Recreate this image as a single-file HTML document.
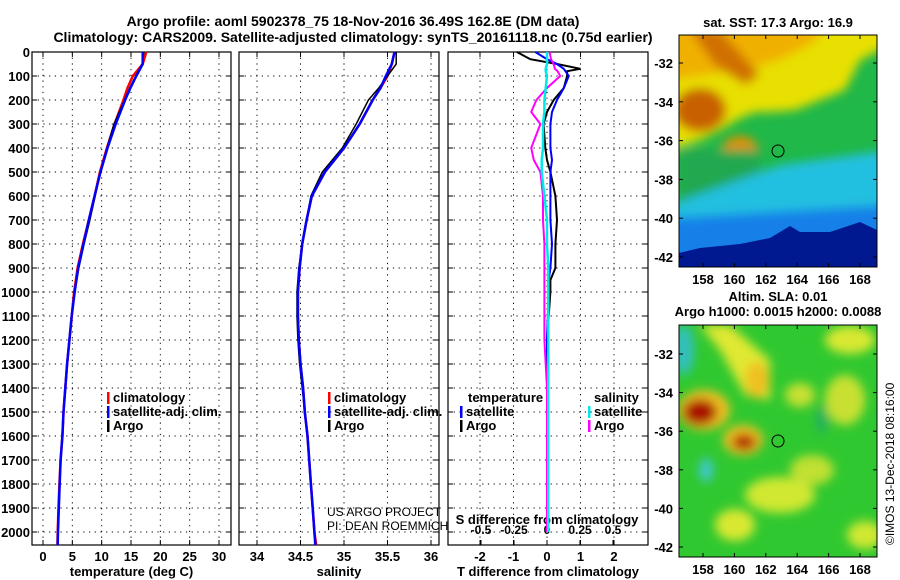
<!DOCTYPE html>
<html><head><meta charset="utf-8"><style>
body{margin:0;background:#fff;}
svg{display:block;font-family:"Liberation Sans",sans-serif;font-weight:bold;}
</style></head><body>
<svg id="s" width="900" height="580" viewBox="0 0 900 580">
<defs>
<clipPath id="c1"><rect x="679" y="35" width="198" height="232"/></clipPath>
<clipPath id="c2"><rect x="679" y="325" width="198" height="232"/></clipPath>
<filter id="bl" x="-20%" y="-20%" width="140%" height="140%"><feGaussianBlur stdDeviation="5"/></filter>
<filter id="bl2" x="-20%" y="-20%" width="140%" height="140%"><feGaussianBlur stdDeviation="5"/></filter>
</defs>
<text x="353" y="26" font-size="14" text-anchor="middle">Argo profile: aoml 5902378_75 18-Nov-2016 36.49S 162.8E (DM data)</text>
<text x="353" y="42" font-size="14" text-anchor="middle">Climatology: CARS2009. Satellite-adjusted climatology: synTS_20161118.nc (0.75d earlier)</text>

<g clip-path="url(#c1)">
<rect x="679" y="35" width="198" height="232" fill="#20b848"/>
<g filter="url(#bl)">
<polygon points="670,25 890,25 890,45 860,60 845,90 820,100 795,110 770,112 755,112 740,118 720,130 700,140 670,150" fill="#e8e000"/>
<polygon points="670,25 830,25 810,45 780,60 745,70 705,75 670,80" fill="#f0b000"/>
<polygon points="690,30 720,30 760,75 745,85 715,65" fill="#d07000"/>
<ellipse cx="700" cy="110" rx="26" ry="22" fill="#c86000"/>
<ellipse cx="740" cy="150" rx="18" ry="14" fill="#e09000"/>
<polygon points="680,150 760,150 760,195 680,200" fill="#20a850"/>
<polygon points="780,165 890,150 890,225 670,225 670,205" fill="#20c0e0"/>
<polygon points="670,218 890,205 890,280 670,280" fill="#1880e8"/>
</g>
<polygon points="679,253 700,248 740,244 770,238 790,226 800,232 830,232 860,222 877,230 877,267 679,267" fill="#001890"/>
<circle cx="778" cy="151" r="6" fill="none" stroke="#000" stroke-width="1"/>
</g>
<rect x="679" y="35" width="198" height="232" fill="none" stroke="#000"/>
<text x="778" y="27" font-size="13" text-anchor="middle">sat. SST: 17.3 Argo: 16.9</text>

<g clip-path="url(#c2)">
<rect x="679" y="325" width="198" height="232" fill="#30c830"/>
<g filter="url(#bl2)">
<polygon points="700,325 730,325 770,360 770,400 745,395 720,350" fill="#e0e830"/>
<ellipse cx="757" cy="380" rx="12" ry="18" fill="#f0c020"/>
<ellipse cx="850" cy="340" rx="25" ry="14" fill="#d8e830"/>
<ellipse cx="845" cy="400" rx="20" ry="25" fill="#c8e030"/>
<ellipse cx="800" cy="395" rx="15" ry="12" fill="#c8e030"/>
<ellipse cx="780" cy="495" rx="35" ry="18" fill="#d0e830"/>
<ellipse cx="735" cy="525" rx="20" ry="16" fill="#d8e830"/>
<ellipse cx="865" cy="535" rx="18" ry="14" fill="#d0e830"/>
<ellipse cx="812" cy="470" rx="22" ry="15" fill="#c0e030"/>
<ellipse cx="822" cy="420" rx="6" ry="14" fill="#20b060"/>
<ellipse cx="684" cy="350" rx="10" ry="25" fill="#30c0c0"/>
<ellipse cx="706" cy="470" rx="7" ry="12" fill="#40c8d0"/>
<ellipse cx="704" cy="410" rx="26" ry="20" fill="#f0c020"/>
<ellipse cx="700" cy="412" rx="17" ry="13" fill="#a81000"/>
<ellipse cx="743" cy="440" rx="20" ry="15" fill="#f0c020"/>
<ellipse cx="744" cy="442" rx="12" ry="8" fill="#b02000"/>
</g>
<circle cx="778" cy="441" r="6" fill="none" stroke="#000" stroke-width="1"/>
</g>
<rect x="679" y="325" width="198" height="232" fill="none" stroke="#000"/>
<text x="778" y="301" font-size="13" text-anchor="middle">Altim. SLA: 0.01</text>
<text x="778" y="316" font-size="13" text-anchor="middle">Argo h1000: 0.0015 h2000: 0.0088</text>
<text transform="translate(894,545) rotate(-90)" font-size="12" font-weight="normal">©IMOS 13-Dec-2018 08:16:00</text>
<text x="327" y="516" font-size="12" font-weight="normal">US ARGO PROJECT</text>
<text x="327" y="530" font-size="12" font-weight="normal">PI: DEAN ROEMMICH</text>
</svg>
<script>
const depthTicks=[0,100,200,300,400,500,600,700,800,900,1000,1100,1200,1300,1400,1500,1600,1700,1800,1900,2000];
const tempTicks=[0,5,10,15,20,25,30];
const salTicks=[34,34.5,35,35.5,36];
const tdTicks=[-2,-1,0,1,2];
const sdTicks=[-0.5,-0.25,0,0.25,0.5];
const latTicks=[-32,-34,-36,-38,-40,-42];
const lonTicks=[158,160,162,164,166,168];
const zDepth=[0,50,100,150,200,300,400,500,600,700,800,900,1000,1100,1200,1300,1400,1500,1600,1700,1800,1900,2000,2054];
const tempClim=[17.6,17.0,15.3,14.4,13.7,12.2,10.9,9.7,8.8,7.8,6.8,5.9,5.3,4.9,4.5,4.1,3.8,3.5,3.3,3.0,2.8,2.65,2.5,2.45];
const tempSat=[17.0,17.0,15.9,14.9,14.0,12.4,11.0,9.8,8.8,7.8,6.9,6.0,5.4,4.9,4.5,4.1,3.8,3.5,3.3,3.0,2.85,2.7,2.55,2.5];
const tempArgo=[17.2,16.9,15.8,14.8,13.9,12.1,10.9,9.8,8.9,8.0,7.0,6.1,5.4,4.9,4.5,4.1,3.8,3.5,3.3,3.0,2.85,2.7,2.55,2.5];
const salClim=[35.58,35.55,35.5,35.42,35.33,35.18,35.0,34.78,34.63,34.57,34.52,34.49,34.47,34.47,34.48,34.5,34.53,34.55,34.58,34.6,34.62,34.64,34.66,34.68];
const salSat=[35.58,35.55,35.48,35.42,35.33,35.18,35.0,34.78,34.63,34.57,34.52,34.49,34.47,34.47,34.48,34.5,34.53,34.55,34.58,34.6,34.62,34.64,34.66,34.67];
const salArgo=[35.6,35.6,35.5,35.4,35.28,35.14,34.98,34.75,34.62,34.57,34.52,34.48,34.46,34.46,34.47,34.49,34.52,34.55,34.58,34.6,34.62,34.64,34.66,34.67];
const dDepth=[0,30,50,70,80,100,150,200,250,300,400,450,500,600,700,800,900,950,1000,1200,1400,1600,1800,2000];
const tdArgo=[-0.9,-0.5,0.3,1.0,0.6,0.6,0.5,0.2,0.0,-0.1,-0.05,0.0,0.1,0.25,0.3,0.25,0.25,0.1,0.1,0.0,0.0,0.0,0.0,0.0];
const tdSat=[-0.35,0.0,0.3,0.5,0.55,0.65,0.5,0.3,0.15,0.1,0.1,0.15,0.1,0.1,0.1,0.15,0.1,0.05,0.05,0.0,0.0,0.0,0.0,0.0];
const sdArgo=[0.02,0.03,0.05,0.06,0.08,0.1,0.0,-0.08,-0.12,-0.05,-0.12,-0.1,-0.05,-0.03,-0.03,-0.02,-0.02,-0.02,-0.02,-0.02,0.0,0.0,0.0,0.0];
const sdSat=[0,0,0,-0.01,-0.01,0,-0.01,-0.02,-0.02,-0.03,-0.03,-0.04,-0.04,-0.02,0,0,0.01,0.01,0.01,0.01,0.01,0.01,0.01,0.01];

const S=document.getElementById('s');
const NS='http://www.w3.org/2000/svg';
function mk(tag,attrs,parent){const e=document.createElementNS(NS,tag);for(const k in attrs)e.setAttribute(k,attrs[k]);(parent||S).appendChild(e);return e;}
const Y0=52,YB=545;
const yD=d=>Y0+d*0.24;
const panels=[
 {x0:32,x1:231,sx:v=>43+v*176/30,ticks:tempTicks,lbl:'temperature (deg C)',name:'temperature-panel'},
 {x0:239,x1:439,sx:v=>257+(v-34)*87,ticks:salTicks,lbl:'salinity',name:'salinity-panel'},
 {x0:448,x1:648,sx:v=>547+v*33.5,ticks:tdTicks,lbl:'T difference from climatology',name:'difference-panel'}];
const sdX=v=>547+v*132;
panels.forEach((p,i)=>{
 const g=mk('g',{});
 
 
 depthTicks.forEach(d=>{
  const l=mk('line',{x1:p.x0,x2:p.x1,y1:yD(d),y2:yD(d),stroke:'#000','stroke-dasharray':'1.2,4.5','stroke-width':1},g);
  
  
  mk('line',{x1:p.x0,x2:p.x0+5,y1:yD(d),y2:yD(d),stroke:'#000'},g);
  mk('line',{x1:p.x1-5,x2:p.x1,y1:yD(d),y2:yD(d),stroke:'#000'},g);
 });
 p.ticks.forEach(t=>{
  const x=p.sx(t);
  const l=mk('line',{x1:x,x2:x,y1:Y0,y2:YB,stroke:'#000','stroke-dasharray':'1.2,4.5'},g);
  
  
  mk('line',{x1:x,x2:x,y1:YB-5,y2:YB,stroke:'#000'},g);
  mk('line',{x1:x,x2:x,y1:Y0,y2:Y0+5,stroke:'#000'},g);
  const tx=mk('text',{x:x,y:561,'font-size':13,'text-anchor':'middle'},g);
  tx.textContent=String(t);
  
  
 });
 const r=mk('rect',{x:p.x0,y:Y0,width:p.x1-p.x0,height:YB-Y0,fill:'none',stroke:'#000','stroke-width':1.2},g);
 
 
 const xl=mk('text',{x:(p.x0+p.x1)/2,y:576,'font-size':13,'text-anchor':'middle'},g);
 xl.textContent=p.lbl;
 
 
});
depthTicks.forEach(d=>{
 const t=mk('text',{x:30,y:yD(d)+5,'font-size':13,'text-anchor':'end'});
 t.textContent=String(d);
 
 
});
sdTicks.forEach(t=>{
 const x=sdX(t);
 mk('line',{x1:x,x2:x,y1:YB-5,y2:YB,stroke:'#000'});
 const tx=mk('text',{x:x,y:534,'font-size':12,'text-anchor':'middle'});
 tx.textContent=String(t);
 
 
});
const sdt=mk('text',{x:547,y:524,'font-size':13,'text-anchor':'middle'});
sdt.textContent='S difference from climatology';



function line(vals,depths,sx,color,name,w){
 const pts=vals.map((v,i)=>sx(v).toFixed(1)+','+yD(depths[i]).toFixed(1)).join(' ');
 const pl=mk('polyline',{points:pts,fill:'none',stroke:color,'stroke-width':w||2});
 
 
}
line(tempClim,zDepth,panels[0].sx,'#ff0000','temp-climatology-line',2.5);
line(tempArgo,zDepth,panels[0].sx,'#000000','temp-argo-line',1.5);
line(tempSat,zDepth,panels[0].sx,'#0000ff','temp-satellite-line',2.5);
line(salClim,zDepth,panels[1].sx,'#ff0000','sal-climatology-line',2.5);
line(salArgo,zDepth,panels[1].sx,'#000000','sal-argo-line',1.5);
line(salSat,zDepth,panels[1].sx,'#0000ff','sal-satellite-line',2.5);
line(tdArgo,dDepth,panels[2].sx,'#000000','tdiff-argo-line',2);
line(tdSat,dDepth,panels[2].sx,'#0000ff','tdiff-satellite-line',2);
line(sdArgo,dDepth,sdX,'#ff00ff','sdiff-argo-line',2);
line(sdSat,dDepth,sdX,'#00e8e8','sdiff-satellite-line',2.5);

function leg(x,y,color,label,name){
 const g=mk('g',{});
 
 
 mk('rect',{x:x,y:y-10,width:2.5,height:12,fill:color},g);
 const t=mk('text',{x:x+6,y:y,'font-size':13},g);
 t.textContent=label;
}
leg(107,402,'#ff0000','climatology','legend-temp-climatology');
leg(107,416,'#0000ff','satellite-adj. clim.','legend-temp-satellite');
leg(107,430,'#000000','Argo','legend-temp-argo');
leg(328,402,'#ff0000','climatology','legend-sal-climatology');
leg(328,416,'#0000ff','satellite-adj. clim.','legend-sal-satellite');
leg(328,430,'#000000','Argo','legend-sal-argo');
const lt=mk('text',{x:468,y:402,'font-size':13});lt.textContent='temperature';


leg(460,416,'#0000ff','satellite','legend-tdiff-satellite');
leg(460,430,'#000000','Argo','legend-tdiff-argo');
const ls=mk('text',{x:594,y:402,'font-size':13});ls.textContent='salinity';


leg(588,416,'#00e8e8','satellite','legend-sdiff-satellite');
leg(588,430,'#ff00ff','Argo','legend-sdiff-argo');

[[35,267,63,38.8],[325,557,354,38.6]].forEach(m=>{
 latTicks.forEach((lt,i)=>{
  const y=m[2]+i*m[3];
  mk('line',{x1:679,x2:683,y1:y,y2:y,stroke:'#000'});
  mk('line',{x1:873,x2:877,y1:y,y2:y,stroke:'#000'});
  const t=mk('text',{x:673,y:y+5,'font-size':13,'text-anchor':'end'});
  t.textContent=String(lt);
  
  
 });
 lonTicks.forEach(ln=>{
  const x=703+(ln-158)*15.7;
  mk('line',{x1:x,x2:x,y1:m[0],y2:m[0]+4,stroke:'#000'});
  mk('line',{x1:x,x2:x,y1:m[1]-4,y2:m[1],stroke:'#000'});
  const t=mk('text',{x:x,y:m[1]+17,'font-size':13,'text-anchor':'middle'});
  t.textContent=String(ln);
  
  
 });
});
</script>
</body></html>
